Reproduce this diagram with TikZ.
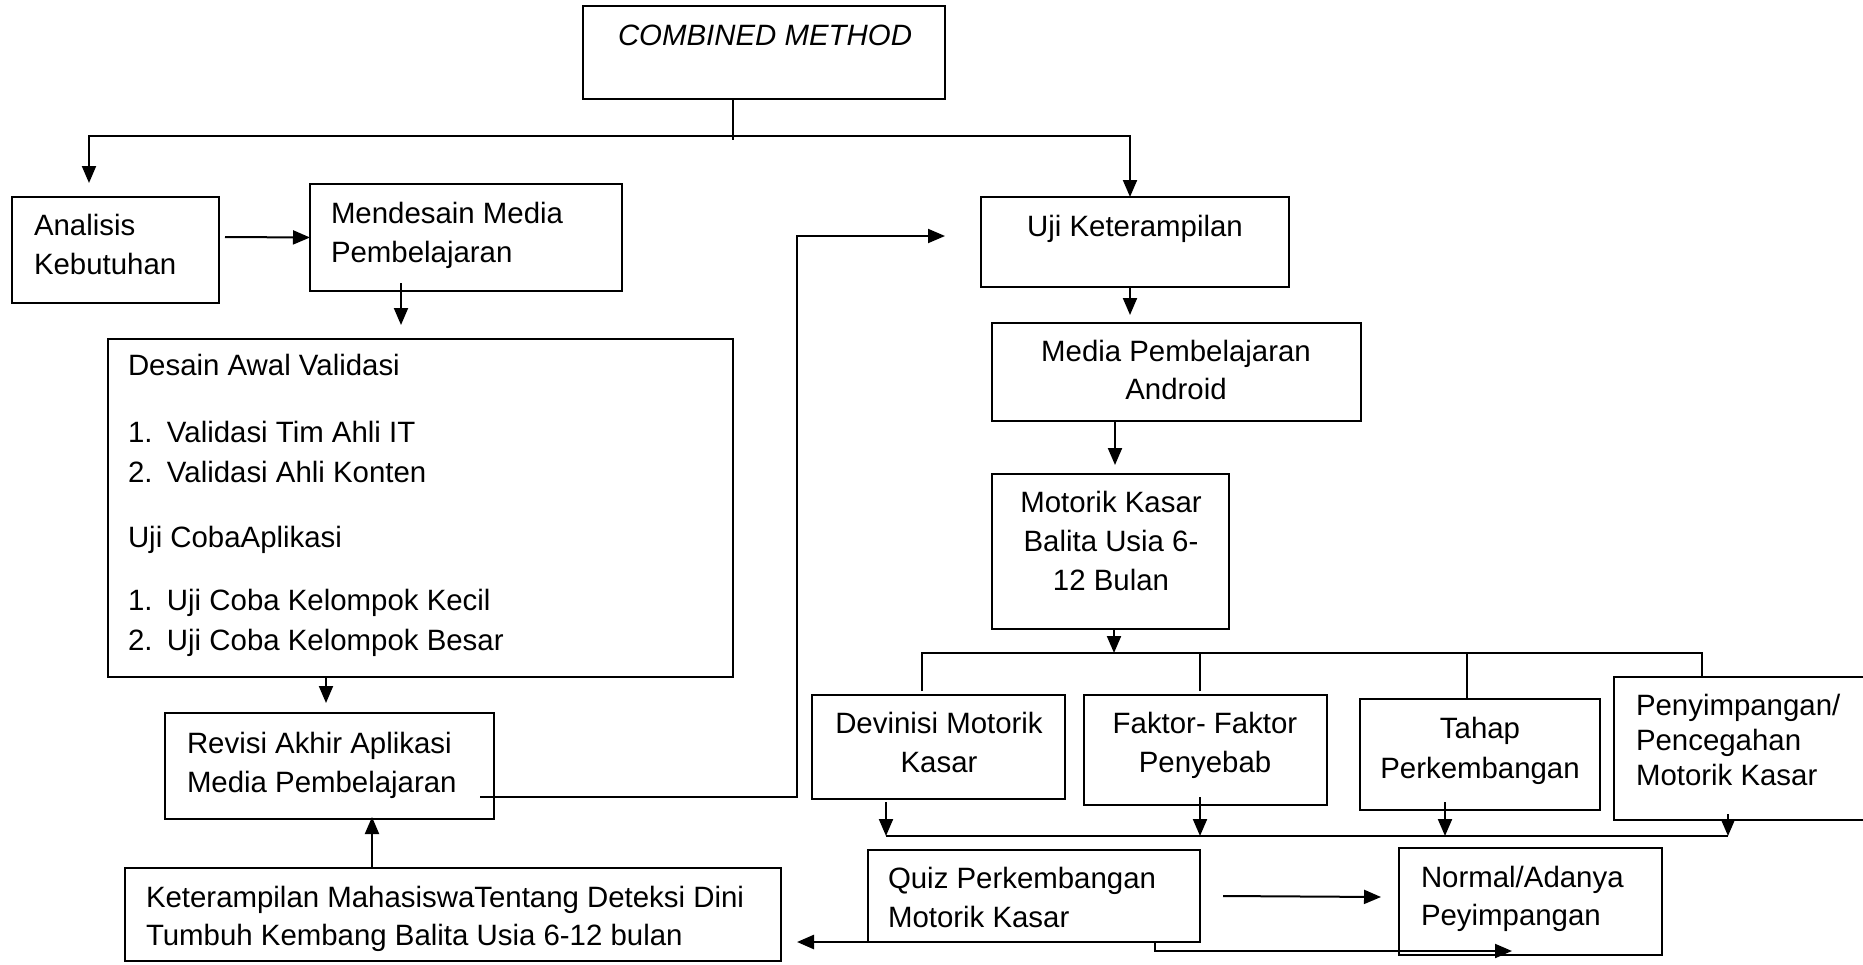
\documentclass[tikz,border=0pt]{standalone}
\usepackage{fontspec}
\setmainfont{Liberation Sans}
\usetikzlibrary{arrows.meta,calc}
\begin{document}
\begin{tikzpicture}[x=1pt,y=-1pt,
  box/.style={draw, line width=2.2pt, anchor=north west, inner sep=0pt, outer sep=0pt},
  txt/.style={inner sep=0pt, outer sep=0pt, font=\fontsize{29.4}{39}\selectfont},
  conn/.style={line width=2pt},
  arr/.style={line width=2pt, -{Triangle[length=17pt,width=14pt]}},
  thinln/.style={line width=1.5pt}]
\useasboundingbox[fill=white] (0,0) rectangle (1863,964);

% boxes
\node[box, minimum width=362pt, minimum height=93pt] (comb) at (583,6) {};
\node[box, minimum width=207pt, minimum height=106pt] (ana) at (12,197) {};
\node[box, minimum width=312pt, minimum height=107pt] (mend) at (310,184) {};
\node[box, minimum width=625pt, minimum height=338pt] (des) at (108,339) {};
\node[box, minimum width=329pt, minimum height=106pt] (rev) at (165,713) {};
\node[box, minimum width=656pt, minimum height=93pt] (ket) at (125,868) {};
\node[box, minimum width=308pt, minimum height=90pt] (uji) at (981,197) {};
\node[box, minimum width=369pt, minimum height=98pt] (media) at (992,323) {};
\node[box, minimum width=237pt, minimum height=155pt] (mot) at (992,474) {};
\node[box, minimum width=253pt, minimum height=104pt] (dev) at (812,695) {};
\node[box, minimum width=243pt, minimum height=110pt] (fak) at (1084,695) {};
\node[box, minimum width=240pt, minimum height=111pt] (tah) at (1360,699) {};
\node[box, minimum width=254pt, minimum height=143pt] (pen) at (1614,677) {};
\node[box, minimum width=332pt, minimum height=92pt] (quiz) at (868,850) {};
\node[box, minimum width=263pt, minimum height=107pt] (norm) at (1399,848) {};

% texts
\node[txt, anchor=north] (tcomb) at (765,24.5) {\itshape COMBINED METHOD};
\node[txt, anchor=north west, align=left] (tana) at (34,214.5) {Analisis\\Kebutuhan};
\node[txt, anchor=north west, align=left] (tmend) at (331,202.5) {Mendesain Media\\Pembelajaran};
\node[txt, anchor=north west] (tdes1) at (128,354.5) {Desain Awal Validasi};
\node[txt, anchor=north west, align=left, font=\fontsize{29.4}{40}\selectfont] (tdes2) at (128,421.5)
  {\makebox[39pt][l]{1.}Validasi Tim Ahli IT\\\makebox[39pt][l]{2.}Validasi Ahli Konten};
\node[txt, anchor=north west] (tdes3) at (128,526.5) {Uji CobaAplikasi};
\node[txt, anchor=north west, align=left, font=\fontsize{29.4}{40}\selectfont] (tdes4) at (128,589.5)
  {\makebox[39pt][l]{1.}Uji Coba Kelompok Kecil\\\makebox[39pt][l]{2.}Uji Coba Kelompok Besar};
\node[txt, anchor=north west, align=left] (trev) at (187,732.5) {Revisi Akhir Aplikasi\\Media Pembelajaran};
\node[txt, anchor=north west, align=left, font=\fontsize{29.4}{38}\selectfont] (tket) at (146,886.5)
  {Keterampilan MahasiswaTentang Deteksi Dini\\Tumbuh Kembang Balita Usia 6-12 bulan};
\node[txt, anchor=north] (tuji) at (1135,215.5) {Uji Keterampilan};
\node[txt, anchor=north, align=center, font=\fontsize{29.4}{38}\selectfont] (tmedia) at (1176,340.5) {Media Pembelajaran\\Android};
\node[txt, anchor=north, align=center] (tmot) at (1111,491.5) {Motorik Kasar\\Balita Usia 6-\\12 Bulan};
\node[txt, anchor=north, align=center] (tdev) at (939,712.5) {Devinisi Motorik\\Kasar};
\node[txt, anchor=north, align=center] (tfak) at (1205,712.5) {Faktor- Faktor\\Penyebab};
\node[txt, anchor=north, align=center, font=\fontsize{29.4}{40}\selectfont] (ttah) at (1480,717.5) {Tahap\\Perkembangan};
\node[txt, anchor=north west, align=left, font=\fontsize{29.4}{35}\selectfont] (tpen) at (1636,694.5) {Penyimpangan/\\Pencegahan\\Motorik Kasar};
\node[txt, anchor=north west, align=left] (tquiz) at (888,867.5) {Quiz Perkembangan\\Motorik Kasar};
\node[txt, anchor=north west, align=left, font=\fontsize{29.4}{38}\selectfont] (tnorm) at (1421,866.5) {Normal/Adanya\\Peyimpangan};

% top split
\coordinate (split) at (733,136);
\draw[conn] (comb.south -| split) -- ++(0,41);
\draw[arr] (split) -| ([xshift=-26.5pt,yshift=14pt]ana.north);
\draw[arr] (split) -| ([xshift=-5pt]uji.north);

% left column
\draw[arr] ($(ana.east)+(6,-13)$) -- (mend.west);
\draw[arr] ($(mend.south west)+(91,-8)$) -- ++(0,42);
\draw[arr] ($(des.south west)+(218,0)$) -- ++(0,26);
\draw[arr] ($(ket.north west)+(247,0)$) -- ($(rev.south west)+(207,-2)$);
\draw[arr] ($(rev.south east)+(-14,-22)$) -| ($(uji.west)+(-184,-6)$) -- ($(uji.west)+(-36,-6)$);

% right column
\draw[arr] ([xshift=-5pt]uji.south) -- ++(0,28);
\draw[arr] ($(media.south west)+(123,0)$) -- ++(0,44);
\coordinate (bus) at (1114,653);
\draw[arr] (mot.south -| bus) -- (bus);
\draw[thinln] ($(dev.north west)+(110,-4)$) |- (bus) -| ($(pen.north west)+(88,0)$);
\draw[thinln] ($(fak.north west)+(116,-4)$) -- ($(fak.north west)+(116,-42)$);
\draw[thinln] ($(tah.north west)+(107,0)$) -- ($(tah.north west)+(107,-46)$);

% lower collector
\draw[arr] ($(dev.south west)+(74,3)$) -- ++(0,34);
\draw[arr] ($(fak.south west)+(116,-8)$) -- ++(0,39);
\draw[arr] ($(tah.south west)+(85,-8)$) -- ++(0,34);
\draw[arr] ($(pen.south west)+(114,-6)$) -- ++(0,22);
\draw[conn] ($(dev.south west)+(74,37)$) -- ($(pen.south west)+(114,16)$);

% bottom
\draw[arr] ($(quiz.east)+(23,0)$) -- ($(norm.west)+(-18,-4.5)$);
\draw[arr, line width=2.6pt] (quiz.south west) -- ++(-71,0);
\draw[arr] ($(quiz.south west)+(287,0)$) -- ++(0,9) -- ++(357,0);
\end{tikzpicture}
\end{document}
